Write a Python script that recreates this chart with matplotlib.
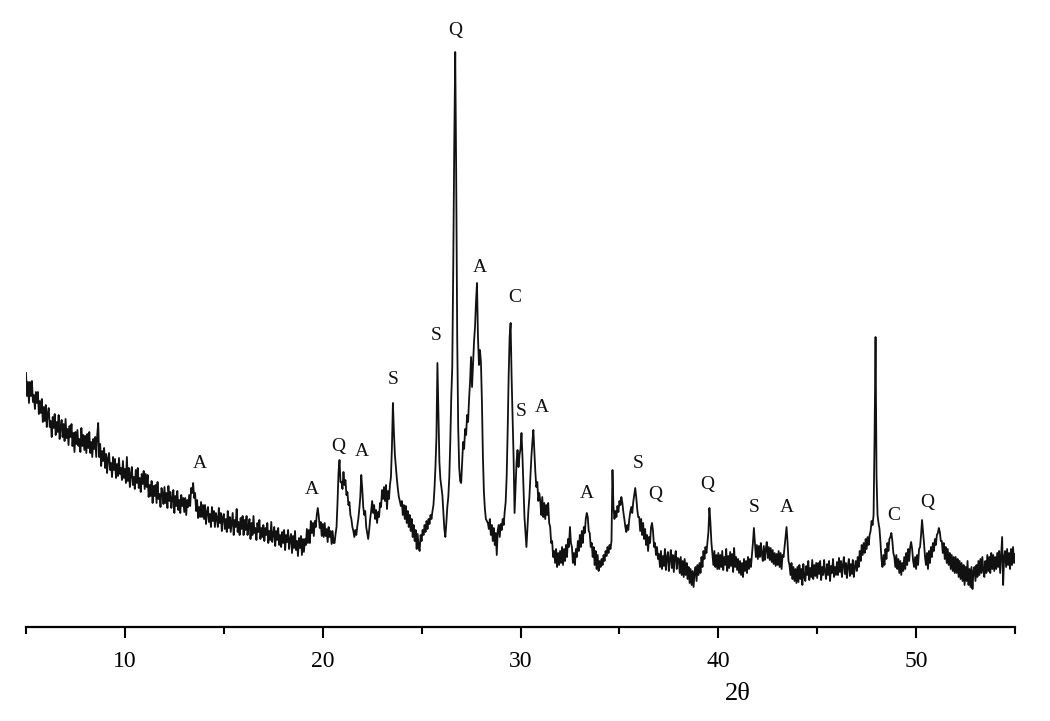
import numpy as np
import matplotlib
matplotlib.use("Agg")
import matplotlib.pyplot as plt

# XRD pattern, intensity in arbitrary units, sampled every 0.05 deg 2-theta from 5 to 55
counts_05_15 = [
    254,231,245,224,245,231,246,225,232,218,235,224,235,213,226,214,228,205,220,206,  # 5
    222,200,214,219,200,206,190,210,199,213,192,205,195,212,188,200,207,190,203,186,  # 6
    208,189,198,182,201,190,203,181,194,175,195,183,197,181,188,175,199,181,192,177,  # 7
    191,174,193,179,195,174,185,170,188,178,190,170,192,204,170,183,161,176,166,179,  # 8
    159,173,154,169,174,157,164,150,170,157,168,149,163,151,169,153,159,147,166,149,  # 9
    158,144,170,146,159,140,153,160,142,150,138,157,144,159,139,149,135,153,143,156,  # 10
    138,153,140,152,130,142,131,146,124,141,131,142,124,145,128,133,120,139,134,123,  # 11
    140,124,134,119,141,126,135,119,129,137,114,131,121,136,117,127,114,132,121,129,  # 12
    115,129,112,127,120,132,121,139,134,144,129,134,116,127,109,120,110,125,110,122,  # 13
    108,122,103,115,120,105,113,100,120,106,116,100,114,109,100,119,104,114,96,110,   # 14
]
counts_15_25 = [
    113,98,108,95,116,99,110,95,105,114,92,107,100,118,95,105,92,109,98,111,          # 15
    92,107,97,111,92,101,108,88,104,92,111,94,99,87,104,95,107,88,99,90,              # 16
    102,86,99,92,104,84,96,87,105,85,93,100,81,96,87,99,82,92,80,95,                  # 17
    84,97,77,92,85,97,78,88,93,74,91,79,96,77,86,71,89,79,91,72,                      # 18
    88,75,88,82,98,84,97,84,106,94,104,91,106,100,112,119,111,99,105,91,              # 19
    103,90,104,91,98,85,100,90,96,83,96,84,84,93,100,125,155,167,145,145,             # 20
    138,155,142,147,132,135,122,125,112,108,100,96,90,97,92,101,108,118,130,152,      # 21
    138,120,112,116,100,94,88,97,108,116,126,114,122,108,117,104,115,110,124,120,     # 22
    137,128,140,126,142,118,136,128,142,150,180,224,195,172,160,148,138,130,126,121,  # 23
    126,112,122,108,121,104,116,100,112,96,108,90,102,86,97,78,93,80,76,92,           # 24
]
counts_25_35 = [
    86,97,92,102,95,106,98,108,103,112,108,116,122,138,160,190,264,215,165,148,       # 25
    140,132,115,98,90,104,120,130,150,185,230,260,360,480,575,450,290,200,160,146,    # 26
    144,165,185,178,198,192,212,205,228,245,270,240,262,285,300,325,344,290,262,277,  # 27
    265,225,170,135,118,108,106,104,98,108,92,102,86,99,82,94,72,97,102,90,           # 28
    103,97,108,102,115,125,150,195,250,290,304,250,212,170,114,140,165,177,160,172,   # 29
    178,194,170,140,110,95,80,98,117,130,150,170,185,197,175,155,140,145,126,134,     # 30
    126,112,130,110,124,108,122,112,124,104,100,84,86,70,76,64,78,60,74,62,           # 31
    76,64,80,62,78,66,82,70,88,80,100,84,80,64,74,62,78,70,86,76,                     # 32
    92,80,96,84,100,94,108,114,110,96,94,80,84,70,80,62,76,58,72,56,                  # 33
    66,60,68,62,72,66,76,71,80,74,82,78,86,157,120,108,116,110,121,115,               # 34
]
counts_35_45 = [
    126,122,130,124,115,108,100,95,102,97,108,115,120,114,125,132,139,130,118,110,    # 35
    110,96,108,92,104,88,98,82,92,76,90,84,100,104,96,80,84,72,80,68,                 # 36
    73,60,76,58,71,61,78,57,70,75,56,68,77,59,72,55,70,76,58,69,                      # 37
    68,54,70,52,66,50,68,52,64,48,60,44,58,42,56,40,55,60,46,62,                      # 38
    52,64,54,70,60,76,68,80,74,84,95,119,105,85,74,62,76,60,72,58,                    # 39
    74,58,72,60,76,57,70,62,78,56,71,59,75,61,73,55,79,60,70,57,                      # 40
    68,54,66,52,64,50,68,56,66,54,70,58,68,60,72,84,99,84,70,82,                      # 41
    68,81,70,84,73,66,81,67,78,85,69,80,67,79,65,77,63,74,61,73,                      # 42
    62,76,60,74,58,72,70,80,90,100,85,66,62,52,64,48,60,46,58,44,                     # 43
    60,45,62,48,58,42,63,50,46,61,52,66,47,59,50,67,48,62,51,64,                      # 44
]
counts_45_55 = [
    49,64,53,66,47,60,52,67,55,48,63,52,66,46,61,54,68,50,60,52,                      # 45
    65,52,69,55,66,50,62,70,53,64,49,61,68,51,63,53,67,50,60,66,                      # 46
    56,70,60,76,66,82,72,84,74,88,78,90,82,92,96,106,102,112,190,290,                 # 47
    150,112,104,98,84,68,60,72,62,78,68,84,76,88,90,94,86,74,70,60,                   # 48
    72,58,68,54,66,52,64,56,70,58,74,62,78,66,80,85,78,66,60,70,                      # 49
    58,72,62,78,80,92,107,96,84,70,62,74,58,76,64,80,70,84,76,88,                     # 50
    82,92,94,99,95,86,86,74,84,68,80,64,78,62,74,58,72,56,70,54,                      # 51
    70,54,68,50,66,48,64,46,62,42,60,46,66,42,58,40,60,38,56,60,                      # 52
    46,62,50,66,52,68,54,70,56,50,66,54,72,56,70,54,74,58,72,56,                      # 53
    70,58,74,60,76,54,72,90,42,70,76,60,78,62,74,58,78,62,80,64,                      # 54
    73,                                                                               # 55
]

# Phase labels: (letter, 2-theta, label height)
label_text = ["A", "A", "Q", "A", "S", "S", "Q", "A", "C", "S", "A",
              "A", "S", "Q", "Q", "S", "A", "C", "Q"]
label_theta = [13.80, 19.46, 20.78, 21.99, 23.56, 25.73, 26.69, 27.96, 29.73, 30.03, 31.09,
               33.37, 35.95, 36.81, 39.44, 41.81, 43.48, 48.89, 50.56]
label_height = [164, 137, 181, 176, 247, 292, 597, 359, 330, 215, 220,
                134, 164, 132, 142, 120, 120, 112, 124]

major_ticks = [10, 20, 30, 40, 50]
minor_ticks = [5, 15, 25, 35, 45, 55]

intensity = np.array(counts_05_15 + counts_15_25 + counts_25_35 + counts_35_45 + counts_45_55, float)
two_theta = 5.0 + 0.05 * np.arange(len(intensity))

serif = ["Liberation Serif", "DejaVu Serif"]

fig = plt.figure(figsize=(10.5, 7.21), dpi=100)
ax = fig.add_axes([26 / 1050, 94 / 721, (1015 - 26) / 1050, 617 / 721])
ax.plot(two_theta, intensity, color="#111111", lw=1.3)

for t, x, y in zip(label_text, label_theta, label_height):
    ax.text(x, y, t, ha="center", va="center", fontsize=14, family=serif, color="#111111")

ax.set_xlim(5, 55)
ax.set_ylim(0, 617)
for s in ["left", "top", "right"]:
    ax.spines[s].set_visible(False)
ax.spines["bottom"].set_linewidth(1.6)
ax.set_yticks([])
ax.set_xticks(major_ticks)
ax.set_xticks(minor_ticks, minor=True)
ax.tick_params(axis="x", which="major", direction="out", length=8, width=1.5, pad=9, labelsize=17)
ax.tick_params(axis="x", which="minor", direction="out", length=5, width=1.5)
for lab in ax.get_xticklabels():
    lab.set_family(serif)
ax.set_xlabel("2θ", fontsize=19, family=serif)
ax.xaxis.set_label_coords(0.72, -0.09)

fig.savefig("out.png", dpi=100)
